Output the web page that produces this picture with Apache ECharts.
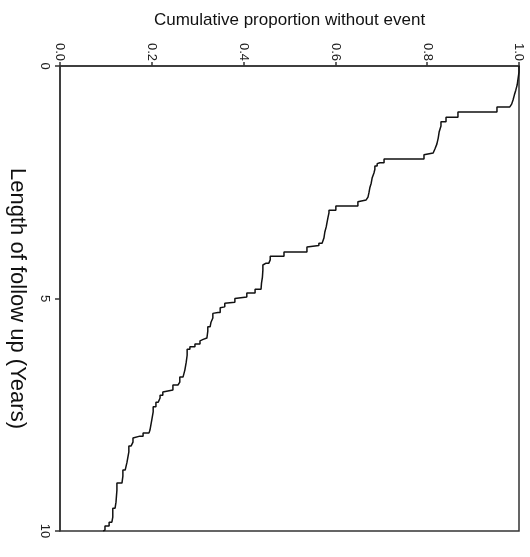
<!DOCTYPE html>
<html>
<head>
<meta charset="utf-8">
<script src="https://cdn.jsdelivr.net/npm/echarts@6/dist/echarts.min.js"></script>
<style>
  html, body { margin: 0; padding: 0; background: #fff; }
  #chart { width: 530px; height: 557px; }
</style>
</head>
<body>
<div id="chart"></div>
<script>
// event times (years) and proportion without event after each event
const eventTimes = [
  0.13, 0.41, 0.52, 0.62, 0.73, 0.82, 0.88, 0.99, 1.10, 1.20,
  1.29, 1.42, 1.55, 1.68, 1.78, 1.87, 1.91, 2.00, 2.08, 2.10,
  2.15, 2.22, 2.30, 2.41, 2.52, 2.62, 2.73, 2.82, 2.88, 2.92,
  3.01, 3.10, 3.16, 3.25, 3.35, 3.46, 3.57, 3.70, 3.81, 3.86,
  3.89, 4.00, 4.09, 4.17, 4.24, 4.28, 4.39, 4.54, 4.67, 4.80,
  4.88, 4.97, 5.00, 5.08, 5.10, 5.18, 5.20, 5.30, 5.32, 5.42,
  5.51, 5.61, 5.70, 5.78, 5.85, 5.88, 5.91, 5.98, 6.04, 6.09,
  6.22, 6.37, 6.54, 6.69, 6.80, 6.86, 6.97, 7.01, 7.08, 7.14,
  7.23, 7.33, 7.44, 7.61, 7.83, 7.89, 7.96, 8.00, 8.09, 8.17,
  8.30, 8.52, 8.69, 8.82, 8.97, 9.12, 9.38, 9.51, 9.70, 9.81,
  9.89, 9.98
];
const survival = [
  0.996, 0.993, 0.990, 0.987, 0.984, 0.980, 0.952, 0.867, 0.841, 0.830,
  0.826, 0.824, 0.821, 0.817, 0.813, 0.810, 0.793, 0.706, 0.697, 0.691,
  0.686, 0.684, 0.680, 0.678, 0.675, 0.673, 0.671, 0.667, 0.664, 0.649,
  0.601, 0.586, 0.584, 0.582, 0.580, 0.577, 0.575, 0.571, 0.564, 0.560,
  0.538, 0.488, 0.458, 0.455, 0.449, 0.442, 0.441, 0.439, 0.438, 0.425,
  0.407, 0.403, 0.381, 0.377, 0.359, 0.355, 0.349, 0.344, 0.333, 0.329,
  0.327, 0.322, 0.321, 0.320, 0.316, 0.312, 0.305, 0.294, 0.283, 0.277,
  0.275, 0.272, 0.268, 0.261, 0.257, 0.246, 0.244, 0.224, 0.218, 0.214,
  0.209, 0.203, 0.200, 0.196, 0.194, 0.181, 0.174, 0.159, 0.155, 0.150,
  0.146, 0.142, 0.137, 0.135, 0.124, 0.122, 0.120, 0.115, 0.113, 0.107,
  0.098, 0.094
];
const followUpEnd = 10;
const proportionTicks = [0, 0.2, 0.4, 0.6, 0.8, 1.0];
const yearTicks = [0, 5, 10];

// step path: proportion holds until the next event, then drops
const steps = [[1.0, 0]];
let prev = 1.0;
for (let i = 0; i < eventTimes.length; i++) {
  steps.push([prev, eventTimes[i]]);
  steps.push([survival[i], eventTimes[i]]);
  prev = survival[i];
}
steps.push([prev, followUpEnd]);

const chart = echarts.init(document.getElementById("chart"), null, { renderer: "canvas" });
const font = "Liberation Sans, Arial, sans-serif";

chart.setOption({
  animation: false,
  backgroundColor: "#fff",
  grid: {
    left: 60, right: 11, top: 66, bottom: 26,
    outerBoundsMode: "none",
    containLabel: false,
    show: true, borderColor: "#333", borderWidth: 1.5,
    backgroundColor: "transparent"
  },
  xAxis: {
    type: "value",
    position: "top",
    min: 0, max: 1, interval: 0.2,
    name: "Cumulative proportion without event",
    nameLocation: "middle",
    nameGap: 37,
    nameTextStyle: { fontFamily: font, fontSize: 17, color: "#111" },
    axisLine: { lineStyle: { color: "#333", width: 1.5 } },
    axisTick: { show: true, length: 4, lineStyle: { color: "#333", width: 1.5 } },
    axisLabel: {
      rotate: -90, margin: 5,
      fontFamily: font, fontSize: 13, color: "#222",
      formatter: (v) => proportionTicks.some((t) => Math.abs(t - v) < 1e-9) ? v.toFixed(1) : ""
    },
    splitLine: { show: false }
  },
  yAxis: {
    type: "value",
    inverse: true,
    min: 0, max: followUpEnd, interval: 5,
    name: "Length of follow up (Years)",
    nameLocation: "middle",
    nameRotate: -90,
    nameGap: 32,
    nameTextStyle: { fontFamily: font, fontSize: 22, color: "#111" },
    axisLine: { lineStyle: { color: "#333", width: 1.5 } },
    axisTick: { show: true, length: 5, lineStyle: { color: "#333", width: 1.5 } },
    axisLabel: {
      rotate: -90, margin: 9,
      fontFamily: font, fontSize: 13, color: "#222",
      formatter: (v) => yearTicks.includes(v) ? String(v) : ""
    },
    splitLine: { show: false }
  },
  series: [{
    type: "line",
    data: steps,
    symbol: "none",
    lineStyle: { color: "#111", width: 1.5 },
    z: 3
  }]
});
</script>
</body>
</html>
